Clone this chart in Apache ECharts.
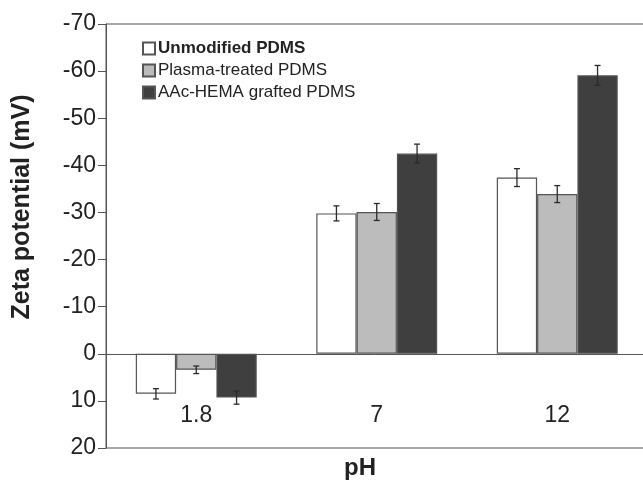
<!DOCTYPE html>
<html>
<head>
<meta charset="utf-8">
<script src="https://cdn.jsdelivr.net/npm/echarts@6/dist/echarts.min.js"></script>
<style>
  html, body { margin: 0; padding: 0; background: #fff; }
  #chart { width: 643px; height: 487px; }
</style>
</head>
<body>
<div id="chart"></div>
<script>
var categories = ['1.8', '7', '12'];
var seriesNames = ['Unmodified PDMS', 'Plasma-treated PDMS', 'AAc-HEMA grafted PDMS'];
// zeta potential (mV), positive values drawn downward (axis is inverted)
var unmodified = [8.5, -29.8, -37.4];
var plasma = [3.4, -30.1, -33.9];
var grafted = [9.3, -42.5, -59.1];
var unmodifiedErr = [1.1, 1.6, 1.9];
var plasmaErr = [0.8, 1.8, 1.8];
var graftedErr = [1.4, 2.0, 2.1];
var yTicks = { min: -70, max: 20, interval: 10 };

var fills = ['#ffffff', '#bcbcbc', '#3f3f3f'];
var values = [unmodified, plasma, grafted];
var errors = [unmodifiedErr, plasmaErr, graftedErr];
var gapRatio = 0.33;
var font = 'Liberation Sans, Arial, sans-serif';

var gridTop = 24, gridBottom = 39;
var plotH = 487 - gridTop - gridBottom;
// lift the category axis from the bottom edge up to the zero line
var zeroOffset = -plotH * (yTicks.max - 0) / (yTicks.max - yTicks.min);

var chart = echarts.init(document.getElementById('chart'));

var series = [];
values.forEach(function (vals, i) {
    series.push({
        name: seriesNames[i],
        type: 'bar',
        data: vals,
        barGap: '0%',
        barCategoryGap: '33%',
        itemStyle: { color: fills[i], borderColor: '#555', borderWidth: 1.2 },
        emphasis: { disabled: true }
    });
});

values.forEach(function (vals, i) {
    series.push({
        type: 'custom',
        name: 'err' + i,
        data: vals.map(function (v, k) { return [k, v, errors[i][k]]; }),
        z: 10,
        renderItem: function (params, api) {
            var k = api.value(0);
            var v = api.value(1);
            var e = api.value(2);
            var band = api.size([1, 0])[0];
            var bw = band * (1 - gapRatio) / 3;
            var off = (i - 1) * bw;
            var lo = api.coord([k, v - e]);
            var hi = api.coord([k, v + e]);
            var x = lo[0] + off;
            var cap = 3;
            var st = { stroke: '#2a2a2a', lineWidth: 1.3 };
            return {
                type: 'group',
                children: [
                    { type: 'line', shape: { x1: x, y1: lo[1], x2: x, y2: hi[1] }, style: st },
                    { type: 'line', shape: { x1: x - cap, y1: lo[1], x2: x + cap, y2: lo[1] }, style: st },
                    { type: 'line', shape: { x1: x - cap, y1: hi[1], x2: x + cap, y2: hi[1] }, style: st }
                ]
            };
        }
    });
});

chart.setOption({
    backgroundColor: '#fff',
    animation: false,
    grid: {
        left: 106, top: gridTop, right: -4.5, bottom: gridBottom,
        containLabel: false, outerBoundsMode: 'none',
        show: true, borderColor: '#555', borderWidth: 1
    },
    legend: {
        data: seriesNames,
        orient: 'vertical',
        left: 142, top: 40, padding: 0,
        itemWidth: 12, itemHeight: 12, itemGap: 5,
        icon: 'rect',
        textStyle: {
            fontFamily: font, fontSize: 17, color: '#222', padding: [0, 0, 0, -2],
            rich: { b: { fontFamily: font, fontSize: 17, fontWeight: 'bold', color: '#222' } }
        },
        formatter: function (name) {
            return name === seriesNames[0] ? '{b|' + name + '}' : name;
        }
    },
    xAxis: {
        type: 'category',
        data: categories,
        offset: zeroOffset,
        axisLine: { onZero: false, lineStyle: { color: '#555', width: 1 } },
        axisTick: { inside: true, length: 7, interval: 0, lineStyle: { color: '#777' } },
        axisLabel: { fontFamily: font, fontSize: 23, color: '#222', margin: 50 },
        splitLine: { show: false }
    },
    yAxis: {
        type: 'value',
        inverse: true,
        min: yTicks.min, max: yTicks.max, interval: yTicks.interval,
        axisLine: { show: true, lineStyle: { color: '#555', width: 1 } },
        axisTick: { show: true, length: 8, lineStyle: { color: '#555' } },
        axisLabel: { fontFamily: font, fontSize: 23, color: '#222', margin: 10 },
        splitLine: { show: false }
    },
    graphic: [
        {
            type: 'text', x: 22, y: 207, rotation: Math.PI / 2,
            style: {
                text: 'Zeta potential (mV)', fontFamily: font, fontSize: 25, fontWeight: 'bold',
                fill: '#222', align: 'center', verticalAlign: 'middle'
            }
        },
        {
            type: 'text', x: 360, y: 468,
            style: {
                text: 'pH', fontFamily: font, fontSize: 24, fontWeight: 'bold',
                fill: '#222', align: 'center', verticalAlign: 'middle'
            }
        }
    ],
    series: series
});
</script>
</body>
</html>
